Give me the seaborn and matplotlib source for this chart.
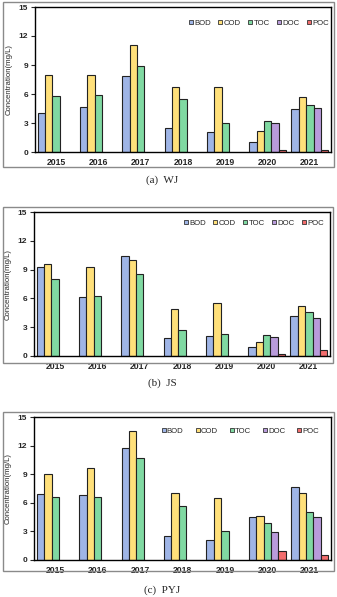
import matplotlib
matplotlib.use("Agg")
import matplotlib.pyplot as plt
from matplotlib.lines import Line2D
from matplotlib.patches import Rectangle
import numpy as np
import pandas as pd
import seaborn as sns

years = ["2015", "2016", "2017", "2018", "2019", "2020", "2021"]
params = ["BOD", "COD", "TOC", "DOC", "POC"]
nan = np.nan

wj_bod = [4.0, 4.7, 7.9, 2.5, 2.1, 1.0, 4.5]
wj_cod = [8.0, 8.0, 11.1, 6.7, 6.7, 2.2, 5.65]
wj_toc = [5.8, 5.9, 8.9, 5.5, 3.0, 3.2, 4.9]
wj_doc = [nan, nan, nan, nan, nan, 3.0, 4.6]
wj_poc = [nan, nan, nan, nan, nan, 0.2, 0.22]

js_bod = [9.3, 6.1, 10.4, 1.9, 2.1, 0.9, 4.2]
js_cod = [9.6, 9.3, 10.0, 4.9, 5.5, 1.5, 5.2]
js_toc = [8.0, 6.3, 8.55, 2.7, 2.3, 2.2, 4.6]
js_doc = [nan, nan, nan, nan, nan, 2.0, 4.0]
js_poc = [nan, nan, nan, nan, nan, 0.17, 0.63]

pyj_bod = [6.95, 6.8, 11.75, 2.55, 2.1, 4.55, 7.7]
pyj_cod = [9.07, 9.7, 13.5, 7.05, 6.5, 4.6, 7.0]
pyj_toc = [6.6, 6.63, 10.65, 5.7, 3.0, 3.9, 5.06]
pyj_doc = [nan, nan, nan, nan, nan, 2.93, 4.55]
pyj_poc = [nan, nan, nan, nan, nan, 0.94, 0.5]

captions = ["(a)  WJ", "(b)  JS", "(c)  PYJ"]
yticks = [0, 3, 6, 9, 12, 15]
colors = ["#9fb5e6", "#ffe07a", "#80d9a2", "#b99bdb", "#f26d6d"]

panels = [
    [wj_bod, wj_cod, wj_toc, wj_doc, wj_poc],
    [js_bod, js_cod, js_toc, js_doc, js_poc],
    [pyj_bod, pyj_cod, pyj_toc, pyj_doc, pyj_poc],
]

sns.set_style("white")
plt.rcParams["font.family"] = ["Liberation Sans", "DejaVu Sans"]

W, H = 337, 597
fig = plt.figure(figsize=(W / 100, H / 100), dpi=100)

layout = [
    dict(ax=(35, 331, 7, 152), box=(3, 334, 2, 167), cap=180, leg=(329, 23), cs=1.0),
    dict(ax=(34, 330, 212, 356), box=(3, 333, 207, 363), cap=383, leg=(324, 223), cs=1.0),
    dict(ax=(34, 331, 417, 560), box=(3, 334, 412, 571), cap=590, leg=(319, 431), cs=1.55),
]

for vals, lay, cap in zip(panels, layout, captions):
    x0, x1, yt, yb = lay["ax"]
    ax = fig.add_axes([x0 / W, 1 - yb / H, (x1 - x0) / W, (yb - yt) / H])
    rows = []
    for p, series in zip(params, vals):
        for yr, v in zip(years, series):
            rows.append({"Year": yr, "Param": p, "Value": v})
    df = pd.DataFrame(rows)
    sns.barplot(data=df, x="Year", y="Value", hue="Param", order=years,
                hue_order=params, palette=colors, width=0.87, errorbar=None,
                edgecolor="#222222", linewidth=0.8, saturation=1, legend=False, ax=ax)
    ax.set_xlim(-0.5, 6.5)
    ax.set_ylim(0, 15)
    ax.set_yticks(yticks)
    ax.set_yticklabels([str(t) for t in yticks], fontsize=6, fontweight="bold")
    ax.set_xticks(range(len(years)))
    ax.set_xticklabels(years, fontsize=6.2, fontweight="bold")
    ax.tick_params(axis="x", length=0, pad=4)
    ax.tick_params(axis="y", length=3, width=0.8, pad=2, direction="out", left=True)
    ax.set_xlabel("")
    ax.set_ylabel("Concentration(mg/L)", fontsize=5.6)
    ax.yaxis.set_label_coords(-0.075, 0.5)
    for s in ax.spines.values():
        s.set_color("black")
        s.set_linewidth(1.0)
        s.set_visible(True)

    handles = [Line2D([], [], marker="s", linestyle="none", markersize=3.3,
                      markerfacecolor=c, markeredgecolor="#333333", markeredgewidth=0.6)
               for c in colors]
    lx, ly = lay["leg"]
    ax.legend(handles, params, loc="center right", ncol=5, frameon=False,
              bbox_to_anchor=((lx - x0) / (x1 - x0), (yb - ly) / (yb - yt)),
              fontsize=5.6, handlelength=0.5, handletextpad=0.15,
              columnspacing=lay["cs"], borderpad=0, borderaxespad=0)

    bx0, bx1, byt, byb = lay["box"]
    fig.patches.append(Rectangle((bx0 / W, 1 - byb / H), (bx1 - bx0) / W, (byb - byt) / H,
                                 transform=fig.transFigure, fill=False,
                                 edgecolor="#8a8a8a", linewidth=1.0))
    fig.text(162 / W, 1 - lay["cap"] / H, cap, ha="center", va="center",
             fontsize=8, family=["Liberation Serif", "DejaVu Serif"])

fig.savefig("out.png", dpi=100)
